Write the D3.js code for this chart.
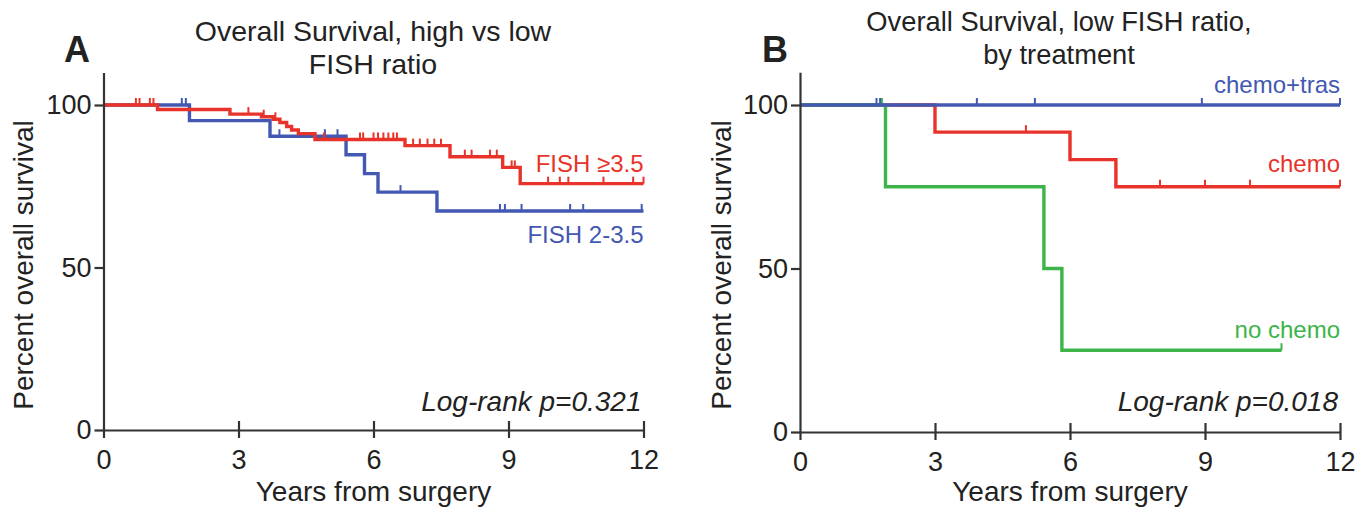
<!DOCTYPE html>
<html>
<head>
<meta charset="utf-8">
<script src="https://cdn.jsdelivr.net/npm/d3@7"></script>
<style>
  body { margin: 0; background: #fff; }
  svg text { font-family: "Liberation Sans", Arial, sans-serif; fill: #222; }
</style>
</head>
<body>
<script>
// axis ticks
const xTicks = [0, 3, 6, 9, 12];
const yTicks = [0, 50, 100];

// Panel A: FISH >= 3.5 (red)
const fishHighTimes = [0, 1.2, 2.81, 3.51, 3.77, 3.92, 4.07, 4.18, 4.33, 4.7, 6.7, 7.7, 8.87, 9.26, 12];
const fishHighSurv  = [100, 98.6, 97.2, 96.4, 95.6, 94.6, 93.4, 92.3, 91.2, 89.4, 87.5, 84.1, 80.8, 75.8, 75.8];
const fishHighCens  = [0.72, 0.8, 1.03, 1.11, 3.22, 3.56, 3.82, 4.9, 5.7, 5.77, 6.0, 6.1, 6.22, 6.33, 6.44, 6.52,
                       6.88, 7.03, 7.2, 7.35, 7.5, 8.03, 8.18, 8.59, 8.74, 9.07, 9.14, 9.88, 10.14, 10.33, 11.11, 11.77, 12];

// Panel A: FISH 2-3.5 (blue)
const fishLowTimes = [0, 1.91, 3.7, 5.39, 5.8, 6.1, 7.41, 12];
const fishLowSurv  = [100, 95.2, 90.4, 84.7, 78.9, 73.2, 67.4, 67.4];
const fishLowCens  = [1.74, 1.83, 3.91, 4.92, 5.2, 6.6, 8.81, 8.92, 9.29, 10.37, 10.66, 11.96];

// Panel B: by treatment
const chemoTrasTimes = [0, 12];
const chemoTrasSurv  = [100, 100];
const chemoTrasCens  = [1.7, 1.78, 3.93, 5.22, 8.93, 12];

const chemoTimes = [0, 3.0, 6.0, 7.02, 12];
const chemoSurv  = [100, 91.7, 83.3, 75, 75];
const chemoCens  = [5.02, 8.0, 9.0, 10.0, 12];

const noChemoTimes = [0, 1.9, 5.42, 5.82, 10.7];
const noChemoSurv  = [100, 75, 50, 25, 25];
const noChemoCens  = [1.82, 10.7];

const RED = "#e8332a", BLUE = "#4358b2", GREEN = "#3cb44a";

const svg = d3.select("body").append("svg")
    .attr("width", 1372)
    .attr("height", 508);

function makeSeries(times, surv, cens) {
    return {
        pts: times.map((t, i) => [t, surv[i]]),
        cens: cens.map(t => {
            // value of the curve at the censor time
            let s = surv[0];
            for (let i = 0; i < times.length; i++) {
                if (times[i] <= t) s = surv[i];
            }
            return [t, s];
        })
    };
}

function drawPanel(cfg) {
    const x = d3.scaleLinear().domain([0, 12]).range([cfg.x0, cfg.x1]);
    const y = d3.scaleLinear().domain([0, 100]).range([cfg.y0, cfg.y100]);
    const g = svg.append("g");

    // curves
    const line = d3.line()
        .x(d => x(d[0]))
        .y(d => y(d[1]))
        .curve(d3.curveStepAfter);

    cfg.series.forEach(s => {
        const data = makeSeries(s.times, s.surv, s.cens);
        g.append("path")
            .attr("d", line(data.pts))
            .attr("fill", "none")
            .attr("stroke", s.color)
            .attr("stroke-width", 3.4);
        g.selectAll(null)
            .data(data.cens)
            .enter()
            .append("line")
            .attr("x1", d => x(d[0]))
            .attr("x2", d => x(d[0]))
            .attr("y1", d => y(d[1]) - 7)
            .attr("y2", d => y(d[1]))
            .attr("stroke", s.color)
            .attr("stroke-width", 2);
        g.append("text")
            .attr("x", cfg.x1)
            .attr("y", s.labelY)
            .attr("text-anchor", "end")
            .attr("font-size", 24)
            .style("fill", s.color)
            .text(s.label);
    });

    // axes
    const yAxisScale = d3.scaleLinear().domain([0, 110]).range([cfg.y0, cfg.y0 - (cfg.y0 - cfg.y100) * 1.1]);
    const yAxis = g.append("g")
        .attr("transform", `translate(${cfg.x0},0)`)
        .call(d3.axisLeft(yAxisScale).tickValues(yTicks).tickSizeInner(9).tickSizeOuter(0).tickPadding(3));
    const xAxis = g.append("g")
        .attr("transform", `translate(0,${cfg.y0})`)
        .call(d3.axisBottom(x).tickValues(xTicks).tickSizeInner(8).tickSizeOuter(0).tickPadding(12));
    xAxis.selectAll(".tick line").filter(d => d > 0).attr("y1", -9);

    [yAxis, xAxis].forEach(a => {
        a.selectAll("path, line").attr("stroke", "#333").attr("stroke-width", 2.2);
        a.selectAll("text").attr("font-size", 27).style("font-family", '"Liberation Sans", Arial, sans-serif').style("fill", "#222");
    });

    // labels
    g.append("text")
        .attr("x", (cfg.x0 + cfg.x1) / 2)
        .attr("y", 501)
        .attr("text-anchor", "middle")
        .attr("font-size", 28)
        .text("Years from surgery");

    g.append("text")
        .attr("transform", `translate(${cfg.yLabelX},${265}) rotate(-90)`)
        .attr("text-anchor", "middle")
        .attr("font-size", 28)
        .text("Percent overall survival");

    cfg.title.forEach((t, i) => {
        g.append("text")
            .attr("x", cfg.titleX)
            .attr("y", cfg.titleY + i * 33)
            .attr("text-anchor", "middle")
            .attr("font-size", cfg.titleSize)
            .text(t);
    });

    g.append("text")
        .attr("x", cfg.letterX)
        .attr("y", 62)
        .attr("font-size", 36)
        .attr("font-weight", "bold")
        .text(cfg.letter);

    g.append("text")
        .attr("x", cfg.x1 - 2)
        .attr("y", 411)
        .attr("text-anchor", "end")
        .attr("font-size", 28)
        .attr("font-style", "italic")
        .text(cfg.logrank);
}

drawPanel({
    x0: 103.5, x1: 643.5, y0: 430, y100: 105,
    letter: "A", letterX: 64,
    title: ["Overall Survival, high vs low", "FISH ratio"], titleX: 373, titleY: 41, titleSize: 28.5,
    yLabelX: 33,
    logrank: "Log-rank p=0.321",
    series: [
        { times: fishLowTimes, surv: fishLowSurv, cens: fishLowCens, color: BLUE, label: "FISH 2-3.5", labelY: 243 },
        { times: fishHighTimes, surv: fishHighSurv, cens: fishHighCens, color: RED, label: "FISH \u22653.5", labelY: 172 }
    ]
});

drawPanel({
    x0: 800, x1: 1340, y0: 432, y100: 105,
    letter: "B", letterX: 762,
    title: ["Overall Survival, low FISH ratio,", "by treatment"], titleX: 1059, titleY: 31, titleSize: 27.3,
    yLabelX: 731,
    logrank: "Log-rank p=0.018",
    series: [
        { times: chemoTimes, surv: chemoSurv, cens: chemoCens, color: RED, label: "chemo", labelY: 172 },
        { times: noChemoTimes, surv: noChemoSurv, cens: noChemoCens, color: GREEN, label: "no chemo", labelY: 338 },
        { times: chemoTrasTimes, surv: chemoTrasSurv, cens: chemoTrasCens, color: BLUE, label: "chemo+tras", labelY: 93 }
    ]
});
</script>
</body>
</html>
